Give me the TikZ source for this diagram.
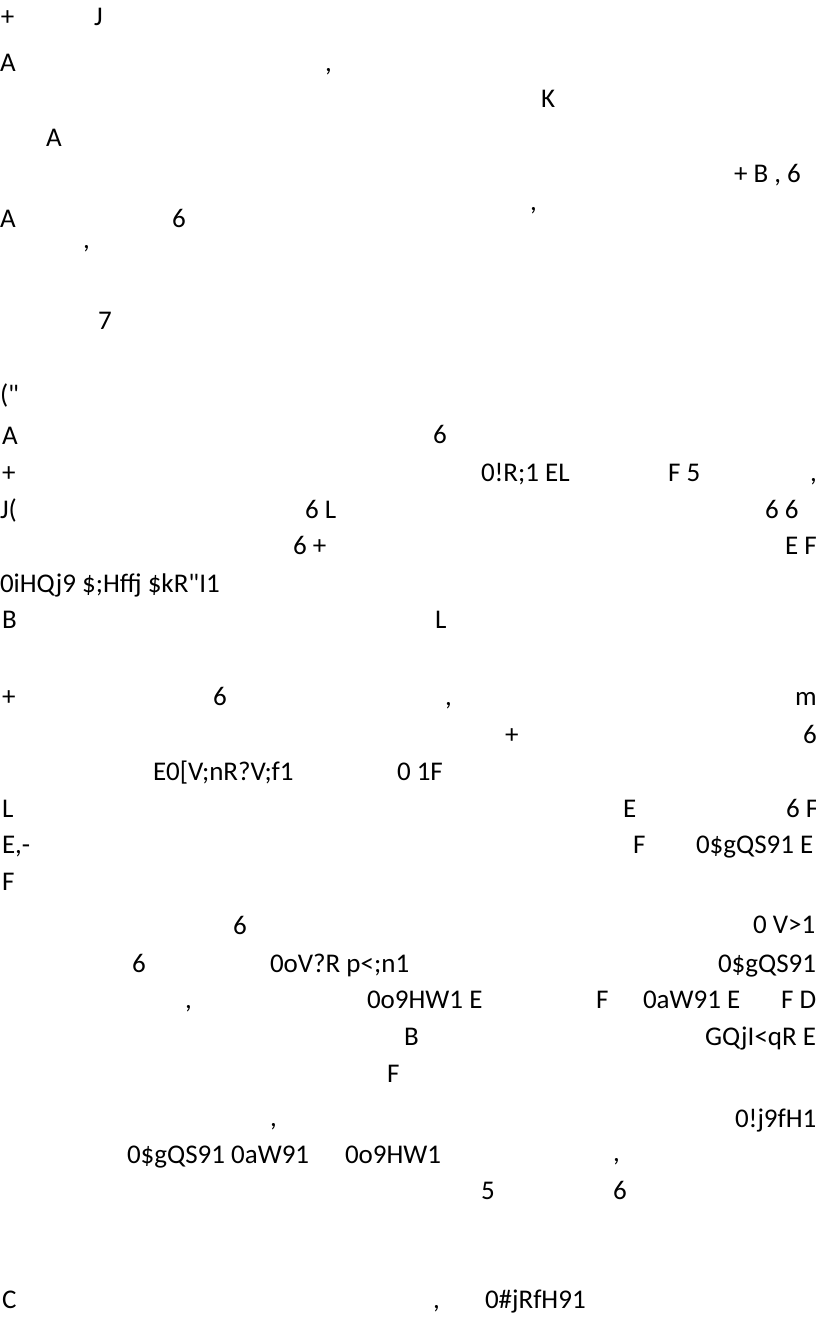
\documentclass[tikz,border=0pt]{standalone}
\usepackage{fontspec}
\newfontfamily\reffam{Carlito}
\newcommand{\reffont}{\reffam\fontsize{27pt}{32pt}\selectfont}
\tikzset{tx/.style={anchor=base west, inner sep=0pt, outer sep=0pt, font=\reffont, text=black}}
\begin{document}
\begin{tikzpicture}[x=1pt,y=-1pt]
\useasboundingbox[fill=white] (0,0) rectangle (816,1322);
% line 1
\node[tx] (a1) at (1,26) {+};
\node[tx] (a2) at (94,26) {J};
% line 2
\node[tx] (b1) at (0,71) {A};
\node[tx] (b2) at (325,71) {,};
% line 3
\node[tx] (c1) at (541,107) {K};
% line 4
\node[tx] (d1) at (46,146) {A};
% line 5
\node[tx] (e1) at (734,182) {+ B , 6};
% line 6
\node[tx] (f1) at (0,227) {A};
\node[tx] (f2) at (172,227) {6};
\node[tx] (f3) at (530,210) {,};
% line 7
\node[tx] (g1) at (83,248) {,};
% line 8
\node[tx] (h1) at (98,329) {7};
% line 9
\node[tx] (i1) at (0,403) {("};
% line 10
\node[tx] (j1) at (2,444) {A};
\node[tx] (j2) at (433,443) {6};
% line 11
\node[tx] (k1) at (2,481) {+};
\node[tx] (k2) at (481,481) {0!R;1 EL};
\node[tx] (k3) at (668,481) {F 5};
\node[tx] (k4) at (810,481) {,};
% line 12
\node[tx] (l1) at (0,518) {J(};
\node[tx] (l2) at (305,518) {6 L};
\node[tx] (l3) at (765,518) {6 6};
% line 13
\node[tx] (m1) at (293,554) {6 +};
\node[tx] (m2) at (785,554) {E F};
% line 14
\node[tx] (n1) at (0,592) {0iHQj9 \$;Hffj \$kR"I1};
% line 15
\node[tx] (o1) at (2,628) {B};
\node[tx] (o2) at (435,628) {L};
% line 16
\node[tx] (p1) at (2,705) {+};
\node[tx] (p2) at (213,705) {6};
\node[tx] (p3) at (445,705) {,};
\node[tx] (p4) at (795,705) {m};
% line 17
\node[tx] (q1) at (505,743) {+};
\node[tx] (q2) at (803,743) {6};
% line 18
\node[tx] (r1) at (153,780) {E0[V;nR?V;f1};
\node[tx] (r2) at (397,780) {0 1F};
% line 19
\node[tx] (s1) at (2,817) {L};
\node[tx] (s2) at (623,817) {E};
\node[tx] (s3) at (786,817) {6 F};
% line 20
\node[tx] (t1) at (2,853) {E,-};
\node[tx] (t2) at (633,853) {F};
\node[tx] (t3) at (696,853) {0\$gQS91 E};
% line 21
\node[tx] (u1) at (2,890) {F};
% line 22
\node[tx] (v1) at (233,934) {6};
\node[tx] (v2) at (753,933) {0 V>1};
% line 23
\node[tx] (w1) at (132,972) {6};
\node[tx] (w2) at (270,972) {0oV?R p<;n1};
\node[tx] (w3) at (718,972) {0\$gQS91};
% line 24
\node[tx] (x1) at (185,1008) {,};
\node[tx] (x2) at (367,1008) {0o9HW1 E};
\node[tx] (x3) at (596,1008) {F};
\node[tx] (x4) at (643,1008) {0aW91 E};
\node[tx] (x5) at (781,1008) {F D};
% line 25
\node[tx] (y1) at (404,1045) {B};
\node[tx] (y2) at (705,1045) {GQjI<qR E};
% line 26
\node[tx] (z1) at (387,1082) {F};
% line 27
\node[tx] (aa1) at (270,1126) {,};
\node[tx] (aa2) at (735,1127) {0!j9fH1};
% line 28
\node[tx] (bb1) at (127,1163) {0\$gQS91 0aW91};
\node[tx] (bb2) at (345,1163) {0o9HW1};
\node[tx] (bb3) at (613,1161) {,};
% line 29
\node[tx] (cc1) at (481,1199) {5};
\node[tx] (cc2) at (613,1199) {6};
% line 30
\node[tx] (dd1) at (2,1308) {C};
\node[tx] (dd2) at (433,1308) {,};
\node[tx] (dd3) at (485,1308) {0\#jRfH91};
\end{tikzpicture}
\end{document}
